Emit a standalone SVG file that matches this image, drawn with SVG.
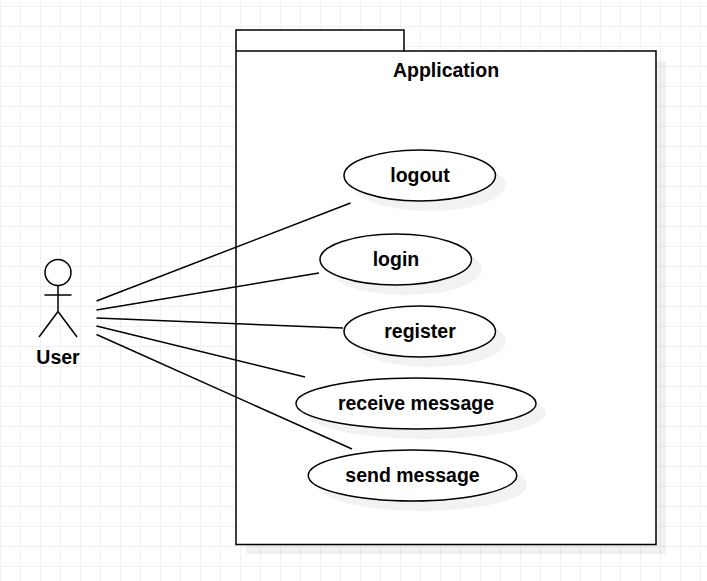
<svg xmlns="http://www.w3.org/2000/svg" width="707" height="581" viewBox="0 0 707 581">
<style>
.shadow{fill:#000;fill-opacity:.05;stroke:none}
.shape{fill:#fff;stroke:#000;stroke-width:1.5}
.conn{stroke:#000;stroke-width:1.5;fill:none}
text{font-family:"Liberation Sans",Arial,sans-serif;font-size:19.5px;font-weight:bold;fill:#000;text-anchor:middle}
</style>
<defs>
<pattern id="grid" width="20" height="20" patternUnits="userSpaceOnUse" y="6">
<path d="M0.5 0V20M0 0.5H20" stroke="#f0f0f0" stroke-width="1" fill="none" shape-rendering="crispEdges"/>
</pattern>
</defs>
<rect width="707" height="581" fill="#fff"/>
<rect width="707" height="581" fill="url(#grid)"/>
<g id="application">
<path class="shadow" d="M246 61H666V554H246Z"/>
<path class="shape" d="M236 30H404V51H656V544.5H236Z"/>
<path class="conn" d="M236 51H404"/>
<text x="446" y="76.500">Application</text>
</g>
<g id="actor-user">
<circle class="shape" cx="58" cy="272.500" r="13"/>
<path class="conn" d="M58 286V312M44.500 295H71.500M58 311.500L39 337M58 311.500L77 337"/>
<text x="58" y="364">User</text>
</g>
<g id="logout">
<ellipse class="shadow" cx="429.750" cy="185" rx="76" ry="26"/>
<ellipse class="shape" cx="419.750" cy="175.500" rx="75.750" ry="25.500"/>
<text x="420" y="182">logout</text>
</g>
<g id="login">
<ellipse class="shadow" cx="405.750" cy="269" rx="76" ry="26"/>
<ellipse class="shape" cx="395.750" cy="259.500" rx="75.750" ry="25.500"/>
<text x="396" y="266">login</text>
</g>
<g id="register">
<ellipse class="shadow" cx="429.750" cy="341" rx="76" ry="26"/>
<ellipse class="shape" cx="419.750" cy="331.500" rx="75.750" ry="25.500"/>
<text x="420" y="338">register</text>
</g>
<g id="receive-message">
<ellipse class="shadow" cx="426" cy="413" rx="120" ry="26"/>
<ellipse class="shape" cx="416" cy="403.500" rx="120" ry="25.500"/>
<text x="416" y="410">receive message</text>
</g>
<g id="send-message">
<ellipse class="shadow" cx="422.500" cy="485" rx="104.500" ry="26"/>
<ellipse class="shape" cx="412.500" cy="475.500" rx="104.250" ry="25.500"/>
<text x="412.500" y="482">send message</text>
</g>
<g id="connectors">
<path class="conn" d="M96.500 301L350.500 203"/>
<path class="conn" d="M96.500 310L319 273"/>
<path class="conn" d="M96.500 318L343 328"/>
<path class="conn" d="M96.500 326L305 377"/>
<path class="conn" d="M96.500 334.500L352 449"/>
</g>
</svg>
